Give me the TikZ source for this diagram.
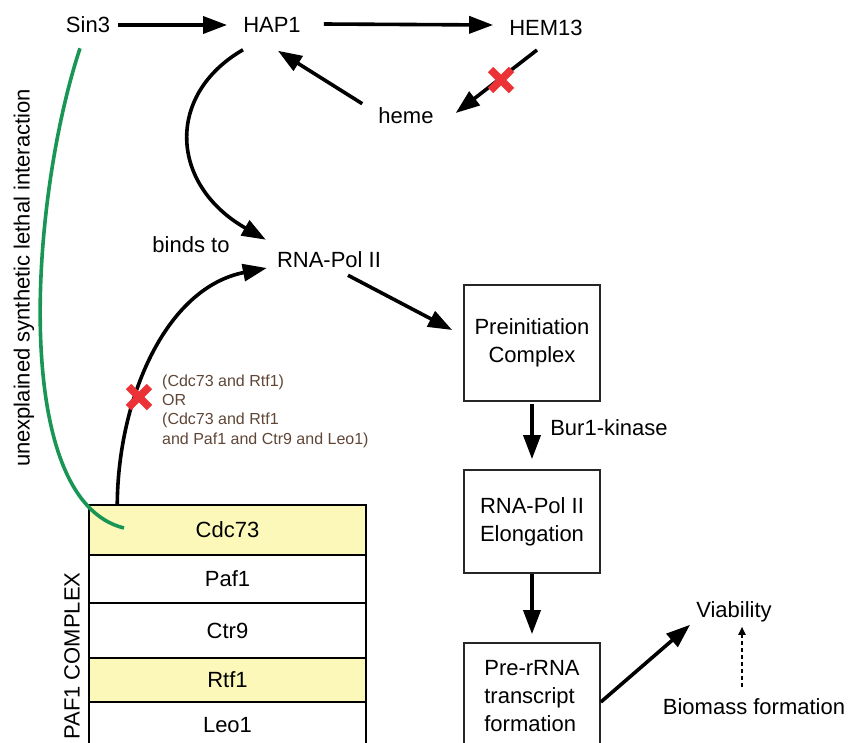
\documentclass[tikz,border=0pt]{standalone}
\usepackage{fontspec}
\setmainfont{Liberation Sans}
\usetikzlibrary{arrows.meta}
\definecolor{knockred}{RGB}{235,50,55}
\definecolor{synlethgreen}{RGB}{25,150,85}
\definecolor{pafyellow}{RGB}{251,248,185}
\definecolor{condbrown}{RGB}{95,70,55}

\begin{document}
\begin{tikzpicture}[x=1pt, y=-1pt, >={Triangle[length=24pt,width=17pt]},
    every node/.style={font=\fontsize{22}{28}\selectfont, inner sep=0pt},
    arr/.style={->, line width=3.6pt},
    dotarr/.style={-{Triangle[length=8pt,width=7pt]}, line width=1.8pt, dash pattern=on 4pt off 3pt},
    box/.style={draw=black!85, line width=1.7pt, minimum width=136pt},
    row/.style={draw, line width=1.5pt, minimum width=277pt},
    knock/.style={knockred, line width=7.5pt},
    synleth/.style={synlethgreen, line width=3.6pt},
    cond/.style={font=\fontsize{16}{19.3}\selectfont, text=condbrown, align=left}]
    \useasboundingbox (0,0) rectangle (849,742);
    \clip (0,0) rectangle (849,742);

    % top row
    \node (sin3) at (88,25) {Sin3};
    \node (hap1) at (272,25) {HAP1};
    \node (hem13) at (546,28) {HEM13};
    \node (heme) at (406,116) {heme};
    \draw[arr] ([xshift=8pt]sin3.east) -- ([xshift=-16pt]hap1.west);
    \draw[arr] ([xshift=23pt,yshift=1pt]hap1.east) -- ([xshift=-16pt]hap1.east -| hem13.west);
    \draw[arr] ([xshift=-16pt,yshift=4pt]heme.north west) -- ([xshift=-23pt,yshift=-18pt]hap1.south east);
    \draw[arr] ([xshift=-9pt,yshift=-14pt]hem13.south) -- ([xshift=22pt,yshift=3pt]heme.east);

    % polymerase
    \node (bindsto) at (191,245) {binds to};
    \node (rnapol) at (329,260) {RNA-Pol II};
    \draw[arr] ([xshift=-29pt,yshift=-17pt]hap1.south) .. controls (165,95) and (170,185) .. ([xshift=-11pt,yshift=12pt]rnapol.north west);

    % transcription steps
    \node[box, minimum height=116pt, align=center] (pic) at (532,343) {Preinitiation\\Complex};
    \node[box, minimum height=103pt, align=left] (elong) at (532,521.5) {RNA-Pol II\\Elongation};
    \node[box, minimum height=106pt, align=left] (prerrna) at (532,696) {Pre-rRNA\\transcript\\formation};
    \node (bur1) at (609,428) {Bur1-kinase};
    \draw[arr] ([xshift=19pt,yshift=-7pt]rnapol.south) -- ([xshift=-11pt,yshift=13pt]pic.west);
    \draw[arr, shorten <=2pt, shorten >=10pt] (pic) -- (elong);
    \draw[arr, shorten >=8pt] (elong) -- (prerrna);

    \node[anchor=base] (viab) at (734,617) {Viability};
    \node (biomass) at (754,707) {Biomass formation};
    \draw[arr] ([yshift=-6pt]prerrna.east) -- ([xshift=-6pt,yshift=-3pt]viab.south west);
    \draw[dotarr] ([xshift=-12pt,yshift=12pt]biomass.north) -- ([xshift=8pt,yshift=-5pt]viab.south);

    % PAF1 complex
    \node[row, fill=pafyellow, minimum height=50pt] (cdc) at (227.5,530) {Cdc73};
    \node[row, minimum height=48pt] (paf) at (227.5,579) {Paf1};
    \node[row, minimum height=55pt] (ctr) at (227.5,630.5) {Ctr9};
    \node[row, fill=pafyellow, minimum height=44pt] (rtf) at (227.5,680) {Rtf1};
    \node[row, minimum height=46pt] (leo) at (227.5,725) {Leo1};
    \node[rotate=90] (pafcx) at (72,656) {PAF1 COMPLEX};

    \draw[arr] ([xshift=29pt]cdc.north west) .. controls (118,400) and (165,288) .. ([xshift=-10pt,yshift=-8pt]rnapol.west);
    \node[cond, anchor=west] (paflbl) at (162,411) {(Cdc73 and Rtf1)\\OR\\(Cdc73 and Rtf1\\and Paf1 and Ctr9 and Leo1)};

    % knock-outs
    \foreach \cx/\cy in {139/397,501/80} {
        \draw[knock] (\cx-10.5,\cy-10.5) -- (\cx+10.5,\cy+10.5);
        \draw[knock] (\cx-10.5,\cy+10.5) -- (\cx+10.5,\cy-10.5);
    }

    % synthetic lethality
    \coordinate (synend) at (124,528);
    \draw[synleth] ([xshift=-8pt,yshift=-15pt]sin3.south) .. controls (30,200) and (10,500) .. (synend);
    \node[rotate=90] (synlbl) at (24,278) {unexplained synthetic lethal interaction};
\end{tikzpicture}
\end{document}
